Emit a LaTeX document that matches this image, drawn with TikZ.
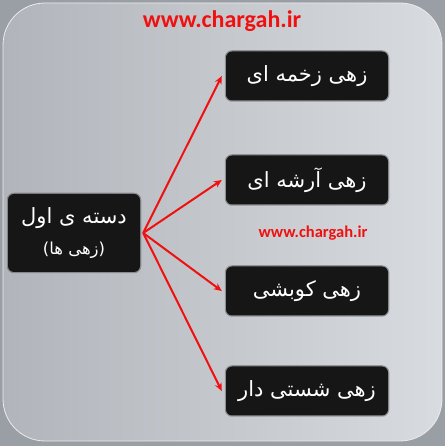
\documentclass[tikz,border=0pt]{standalone}
\usepackage{fontspec}
\setmainfont{Carlito}
\newfontfamily\arabicfont[Script=Arabic]{DejaVu Sans}
\TeXXeTstate=1
\usetikzlibrary{arrows.meta,calc}
\definecolor{outerbg}{HTML}{9A9EA5}
\definecolor{panelL}{HTML}{B1B5BB}
\definecolor{panelR}{HTML}{D8DBDF}
\definecolor{boxfill}{HTML}{161616}
\definecolor{webred}{HTML}{F01010}
\tikzset{
  x=1pt,y=1pt,
  catbox/.style={draw=none, fill=boxfill, rounded corners=6pt, text=white,
    minimum width=162pt, minimum height=49pt, inner sep=0pt,
    font=\arabicfont\fontsize{21}{24}\selectfont,
    preaction={draw=black!70, draw opacity=.45, line width=2.5pt}},
  link/.style={draw=webred, line width=2pt, -{Stealth[length=8pt,width=7pt]}},
  weblabel/.style={text=webred, font=\bfseries}
}
\begin{document}
\begin{tikzpicture}
\useasboundingbox (0,0) rectangle (445,446);
\fill[outerbg] (0,0) rectangle (445,446);
\shade[left color=panelL, right color=panelR, draw=white!85!gray, line width=0.8pt, rounded corners=42pt] (3,5) rectangle (442,443);

\node[weblabel, font=\bfseries\fontsize{24}{28}\selectfont] (web1) at (222,425) {www.chargah.ir};
\node[weblabel, font=\bfseries\fontsize{16.5}{19}\selectfont] (web2) at (313,213) {www.chargah.ir};

\node[catbox, minimum width=132pt, minimum height=78pt, align=center] (root) at (74,213)
  {\beginR دسته ی اول\endR\\[7pt]{\fontsize{16.5}{19}\selectfont\beginR(زهی ها)\endR}};

\node[catbox] (b1) at (307,370) {\beginR زهی زخمه ای\endR};
\node[catbox] (b2) at (307,266) {\beginR زهی آرشه ای\endR};
\node[catbox] (b3) at (307,155) {\beginR زهی کوبشی\endR};
\node[catbox] (b4) at (307,55) {\beginR زهی شستی دار\endR};

\coordinate (src) at ($(root.east)+(3,0)$);
\foreach \t in {b1,b2,b3,b4}
  \draw[link] (src) -- ([xshift=-4pt]\t.west);
\end{tikzpicture}
\end{document}
